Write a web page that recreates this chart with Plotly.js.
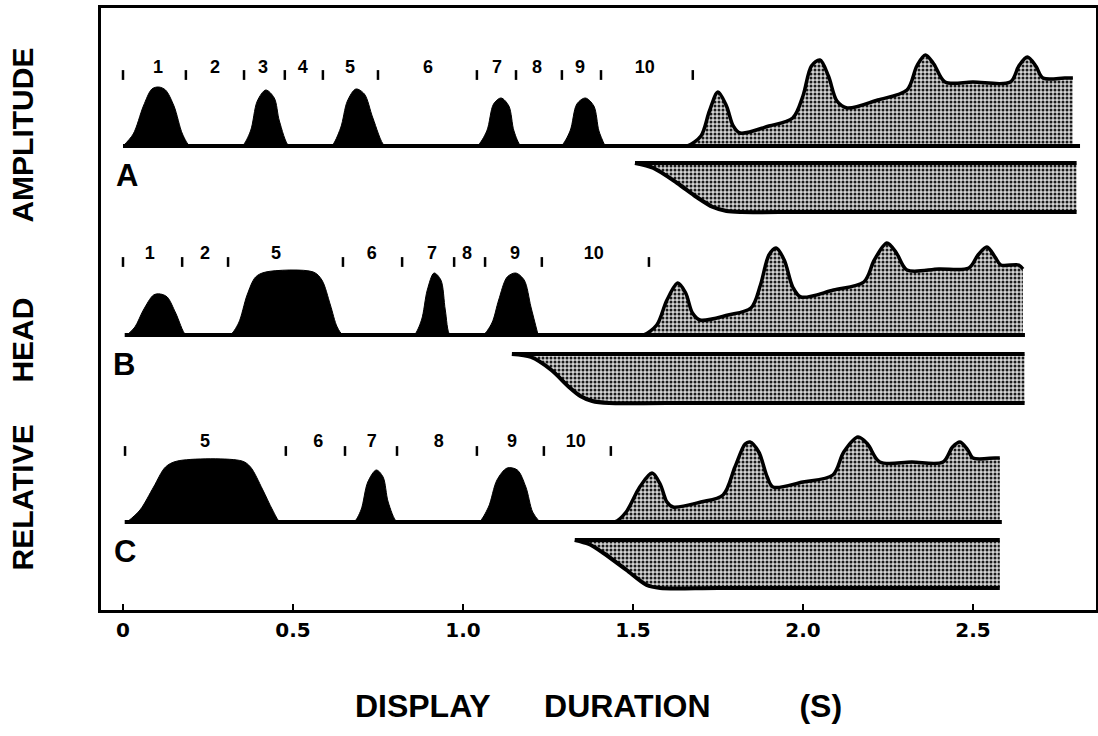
<!DOCTYPE html>
<html><head><meta charset="utf-8">
<script src="https://cdn.plot.ly/plotly-3.0.1.min.js"></script>
<style>html,body{margin:0;padding:0;background:#fff}#chart{width:1098px;height:736px}</style>
</head><body><div id="chart"></div>
<script>
// ---------- axis ticks ----------
const xTickVals = [0, 0.5, 1.0, 1.5, 2.0, 2.5];
const xTickText = ['0', '0.5', '1.0', '1.5', '2.0', '2.5'];

// ---------- panel A ----------
const aBlackX = [0.0,0.03,0.06,0.085,0.105,0.125,0.15,0.175,0.197,0.215, 0.33,0.35,0.375,0.395,0.42,0.445,0.46,0.488,0.505, 0.595,0.613,0.64,0.66,0.685,0.71,0.735,0.77,0.79, 1.02,1.041,1.07,1.09,1.112,1.135,1.15,1.171,1.19, 1.27,1.288,1.315,1.335,1.36,1.385,1.40,1.418];
const aBlackY = [0,12,40,57,59,56,40,12,0,0, 0,0,15,45,56,48,25,0,0, 0,0,18,45,57,52,28,0,0, 0,0,15,42,48,40,15,0,0, 0,0,15,42,48,40,15,0];
const aGrayX = [1.64,1.66,1.70,1.725,1.75,1.775,1.795,1.815,1.90,1.97,2.0,2.025,2.05,2.075,2.1,2.13,2.22,2.306,2.335,2.36,2.385,2.418,2.5,2.61,2.635,2.66,2.685,2.706,2.77,2.794];
const aGrayY = [0,0,10,35,54,40,20,13,20,28,50,80,86,70,45,38,46,56,80,91,82,64,64,64,80,89,80,68,68,68];
const aBase = [0, 2.815];
const aBandX = [1.506,1.56,1.63,1.687,1.735,1.775,1.82,2.0,2.805];
const aBandLo = [-17,-22,-37,-51,-61,-65,-66,-66,-66];
const aBandHi = [-17,-17,-17,-17,-17,-17,-17,-17,-17];
const aDivX = [0, 0.185, 0.356, 0.476, 0.588, 0.75, 1.041, 1.156, 1.291, 1.406, 1.676];
const aLabX = [0.103, 0.271, 0.412, 0.529, 0.668, 0.897, 1.10, 1.218, 1.344, 1.535];
const aLabText = ['1','2','3','4','5','6','7','8','9','10'];

// ---------- panel B ----------
const bBlackX = [0.012,0.035,0.06,0.09,0.11,0.13,0.155,0.185,0.2, 0.30,0.315,0.34,0.365,0.39,0.42,0.56,0.585,0.61,0.63,0.647,0.665, 0.84,0.856,0.878,0.895,0.915,0.935,0.948,0.962,0.98, 1.04,1.059,1.085,1.105,1.13,1.155,1.18,1.20,1.221];
const bBlackY = [0,8,25,40,41,38,22,0,0, 0,0,12,40,58,63,63,55,30,8,0,0, 0,0,15,45,62,55,25,0,0, 0,0,12,35,58,62,55,28,0];
const bGrayX = [1.515,1.532,1.57,1.6,1.632,1.655,1.675,1.697,1.78,1.847,1.875,1.9,1.921,1.945,1.97,1.994,2.09,2.179,2.21,2.247,2.275,2.306,2.4,2.488,2.515,2.541,2.565,2.582,2.635,2.647];
const bGrayY = [0,0,10,35,52,42,22,15,20,27,50,80,87,75,48,38,45,53,75,92,82,65,66,67,80,88,78,70,70,66];
const bBase = [0.005, 2.653];
const bBandX = [1.144,1.2,1.26,1.312,1.345,1.38,1.43,1.6,2.652];
const bBandLo = [-19,-22,-35,-52,-61,-66,-68,-68,-68];
const bBandHi = [-19,-19,-19,-19,-19,-19,-19,-19,-19];
const bDivX = [0, 0.174, 0.309, 0.647, 0.821, 0.974, 1.065, 1.232, 1.547];
const bLabX = [0.079, 0.241, 0.45, 0.732, 0.909, 1.012, 1.153, 1.385];
const bLabText = ['1','2','5','6','7','8','9','10'];

// ---------- panel C ----------
const cBlackX = [0.012,0.05,0.09,0.125,0.16,0.35,0.375,0.41,0.44,0.462,0.48, 0.66,0.679,0.70,0.72,0.745,0.765,0.78,0.806,0.825, 1.03,1.047,1.075,1.10,1.13,1.16,1.185,1.205,1.226];
const cBlackY = [0,12,35,55,61,61,55,33,12,0,0, 0,0,12,40,52,45,20,0,0, 0,0,15,42,54,52,35,10,0];
const cGrayX = [1.43,1.447,1.48,1.52,1.556,1.58,1.60,1.618,1.70,1.765,1.80,1.83,1.844,1.87,1.895,1.912,2.0,2.088,2.12,2.162,2.19,2.226,2.32,2.412,2.44,2.462,2.485,2.50,2.565,2.579];
const cGrayY = [0,0,10,35,49,38,20,15,20,27,55,78,80,70,45,35,40,47,70,85,78,60,60,60,75,80,72,64,64,64];
const cBase = [0.005, 2.585];
const cBandX = [1.329,1.37,1.413,1.481,1.54,1.58,1.75,2.579];
const cBandLo = [-18,-22,-31,-48,-63,-66,-66,-66];
const cBandHi = [-18,-18,-18,-18,-18,-18,-18,-18];
const cDivX = [0.006, 0.479, 0.653, 0.806, 1.041, 1.238, 1.435];
const cLabX = [0.241, 0.574, 0.732, 0.929, 1.144, 1.332];
const cLabText = ['5','6','7','8','9','10'];

// ---------- styling / layout ----------
const FONT = 'Liberation Sans, Arial, Helvetica, sans-serif';
const pattern = {shape: '.', size: 4, solidity: 0.45, fgcolor: '#1a1a1a', bgcolor: '#d4d4d4', fillmode: 'replace'};

const panels = [
  {ax: 'y',  black: [aBlackX, aBlackY], gray: [aGrayX, aGrayY], base: aBase, band: [aBandX, aBandLo, aBandHi], div: aDivX, lab: [aLabX, aLabText], divH: 71, labH: 78},
  {ax: 'y2', black: [bBlackX, bBlackY], gray: [bGrayX, bGrayY], base: bBase, band: [bBandX, bBandLo, bBandHi], div: bDivX, lab: [bLabX, bLabText], divH: 73, labH: 81},
  {ax: 'y3', black: [cBlackX, cBlackY], gray: [cGrayX, cGrayY], base: cBase, band: [cBandX, cBandLo, cBandHi], div: cDivX, lab: [cLabX, cLabText], divH: 71, labH: 80}
];

const traces = [];
panels.forEach(p => {
  const bx = p.band[0], lo = p.band[1], hi = p.band[2];
  // band upper edge
  traces.push({x: bx, y: hi, yaxis: p.ax, mode: 'lines',
    line: {color: '#000', width: 4}, hoverinfo: 'skip', showlegend: false});
  // band lower edge with stippled fill up to the upper edge
  traces.push({x: bx, y: lo, yaxis: p.ax, mode: 'lines', fill: 'tonexty', fillcolor: '#d4d4d4', fillpattern: pattern,
    line: {color: '#000', width: 4, shape: 'spline', smoothing: 0.8}, hoverinfo: 'skip', showlegend: false});
  // stippled response area
  traces.push({x: p.gray[0], y: p.gray[1], yaxis: p.ax, mode: 'lines', fill: 'tozeroy',
    fillcolor: '#d4d4d4', fillpattern: pattern,
    line: {color: '#000', width: 3.5, shape: 'spline', smoothing: 0.9}, hoverinfo: 'skip', showlegend: false});
  // black peaks
  traces.push({x: p.black[0], y: p.black[1], yaxis: p.ax, mode: 'lines', fill: 'tozeroy',
    fillcolor: '#000000', line: {color: '#000', width: 1, shape: 'spline', smoothing: 0.9},
    hoverinfo: 'skip', showlegend: false});
  // baseline
  traces.push({x: p.base, y: [0, 0], yaxis: p.ax, mode: 'lines', line: {color: '#000', width: 4},
    hoverinfo: 'skip', showlegend: false});
  // display boundary ticks
  traces.push({x: p.div, y: p.div.map(() => p.divH), yaxis: p.ax, mode: 'markers',
    marker: {symbol: 'line-ns', size: 7, line: {color: '#000', width: 2.5}}, hoverinfo: 'skip', showlegend: false});
  // display numbers
  traces.push({x: p.lab[0], y: p.lab[0].map(() => p.labH), text: p.lab[1], yaxis: p.ax, mode: 'text',
    textfont: {family: FONT, size: 18, color: '#000', weight: 'bold'}, hoverinfo: 'skip', showlegend: false});
});

const NB = '\u00A0';
const layout = {
  width: 1098, height: 736,
  margin: {l: 101, r: 2, t: 8, b: 126},
  paper_bgcolor: '#ffffff', plot_bgcolor: '#ffffff',
  showlegend: false,
  xaxis: {
    range: [-0.0647, 2.862], showgrid: false, zeroline: false,
    showline: true, mirror: true, linecolor: '#000', linewidth: 3,
    ticks: 'inside', ticklen: 6, tickwidth: 2, tickcolor: '#000',
    tickvals: xTickVals, ticktext: xTickText,
    tickfont: {family: 'DejaVu Sans, sans-serif', size: 20, color: '#000', weight: 'bold'},
    title: {text: 'DISPLAY' + NB.repeat(6) + 'DURATION' + NB.repeat(10) + '(S)', standoff: 54,
      font: {family: FONT, size: 32, color: '#000', weight: 'bold'}}
  },
  yaxis: {
    range: [-464, 138], showgrid: false, zeroline: false, showticklabels: false, ticks: '',
    showline: true, mirror: true, linecolor: '#000', linewidth: 3,
    title: {text: 'RELATIVE' + NB.repeat(5) + 'HEAD' + NB.repeat(9) + 'AMPLITUDE', standoff: 56,
      font: {family: FONT, size: 30, color: '#000', weight: 'bold'}}
  },
  yaxis2: {range: [-275, 327], overlaying: 'y', visible: false, showgrid: false, zeroline: false},
  yaxis3: {range: [-88, 514], overlaying: 'y', visible: false, showgrid: false, zeroline: false},
  annotations: [
    {text: 'A', x: 0.012, y: -29, xref: 'x', yref: 'y', showarrow: false, font: {family: FONT, size: 31, color: '#000', weight: 'bold'}},
    {text: 'B', x: 0.003, y: -29, xref: 'x', yref: 'y2', showarrow: false, font: {family: FONT, size: 31, color: '#000', weight: 'bold'}},
    {text: 'C', x: 0.006, y: -29, xref: 'x', yref: 'y3', showarrow: false, font: {family: FONT, size: 31, color: '#000', weight: 'bold'}}
  ]
};

Plotly.newPlot('chart', traces, layout, {displayModeBar: false, staticPlot: true});
</script></body></html>
